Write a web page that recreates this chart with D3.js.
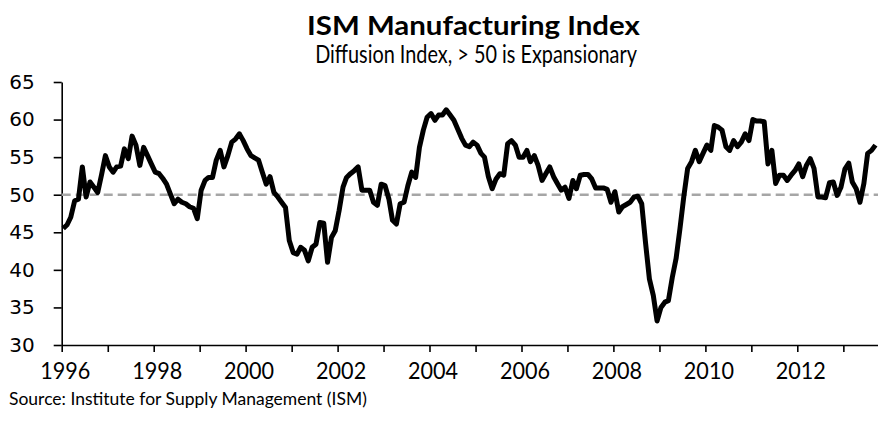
<!DOCTYPE html>
<html>
<head>
<meta charset="utf-8">
<script src="https://cdn.jsdelivr.net/npm/d3@7"></script>
<style>
  body { margin: 0; background: #fff; }
  svg { display: block; }
</style>
</head>
<body>
<div id="chart"></div>
<script>
// ISM Manufacturing PMI, monthly, Jan 1996 .. Sep 2013
const startYear = 1996;
const pmi = [
  45.5, 46.0, 47.0, 49.2, 49.4, 53.7, 49.7, 51.7, 51.0, 50.3, 52.7, 55.2, // 1996
  53.7, 53.0, 53.7, 53.8, 56.1, 54.8, 57.8, 56.6, 53.9, 56.3, 55.2, 54.1, // 1997
  53.0, 52.8, 52.2, 51.4, 50.1, 48.8, 49.4, 49.0, 48.8, 48.4, 48.2, 46.8, // 1998
  50.6, 51.9, 52.3, 52.3, 54.6, 55.9, 53.7, 55.2, 57.0, 57.4, 58.1, 57.2, // 1999
  56.1, 55.2, 54.9, 54.6, 53.0, 51.4, 52.4, 50.3, 49.7, 49.0, 48.3, 43.9, // 2000
  42.3, 42.1, 43.0, 42.6, 41.2, 43.0, 43.4, 46.3, 46.2, 41.0, 44.3, 45.2, // 2001
  47.9, 51.0, 52.3, 52.8, 53.2, 53.7, 50.6, 50.6, 50.6, 49.0, 48.6, 51.4, // 2002
  51.2, 49.4, 46.6, 46.1, 48.8, 49.0, 51.2, 53.0, 52.3, 56.3, 58.6, 60.3, // 2003
  60.8, 59.9, 60.6, 60.6, 61.3, 60.6, 59.9, 58.7, 57.5, 56.6, 56.4, 57.0, // 2004
  56.6, 55.5, 55.0, 52.4, 50.8, 52.1, 52.8, 52.6, 56.8, 57.2, 56.6, 55.0, // 2005
  55.0, 55.9, 54.4, 55.2, 53.9, 51.9, 52.8, 53.7, 52.4, 51.5, 50.6, 51.0, // 2006
  49.5, 51.9, 50.8, 52.6, 52.7, 52.7, 52.1, 50.9, 50.9, 50.9, 50.7, 49.0, // 2007
  50.4, 47.7, 48.4, 48.7, 49.0, 49.7, 49.8, 48.8, 43.5, 38.8, 36.6, 33.2, // 2008
  35.0, 35.7, 35.9, 39.0, 41.5, 45.5, 49.7, 53.5, 54.4, 55.9, 54.4, 55.5, // 2009
  56.6, 55.9, 59.2, 59.0, 58.6, 56.4, 55.9, 57.2, 56.4, 57.0, 58.1, 57.2, // 2010
  60.0, 59.8, 59.8, 59.7, 54.1, 55.9, 51.5, 52.6, 52.6, 51.9, 52.6, 53.2, // 2011
  54.1, 52.4, 53.9, 54.8, 53.5, 49.7, 49.7, 49.6, 51.6, 51.7, 49.9, 51.0, // 2012
  53.4, 54.2, 51.7, 50.8, 49.0, 51.5, 55.5, 55.9, 56.6                    // 2013
];
const yTicks = [30, 35, 40, 45, 50, 55, 60, 65];
const labelYears = [1996, 1998, 2000, 2002, 2004, 2006, 2008, 2010, 2012];
const threshold = 50;

const titleText = "ISM Manufacturing Index";
const subtitleText = "Diffusion Index, > 50 is Expansionary";
const sourceText = "Source: Institute for Supply Management (ISM)";

const W = 878, H = 421;
const calibri = "Lato, 'Open Sans', sans-serif";

const svg = d3.select("#chart").append("svg")
    .attr("width", W)
    .attr("height", H);

// scales
var x = d3.scaleTime()
    .domain([new Date(1996, 0, 1), new Date(2014, 0, 1)])
    .range([61.7, 889.3]);
var y = d3.scaleLinear()
    .domain([30, 65])
    .range([345, 82]);

// monthly points sit a little after the start of each month
var data = pmi.map((v, i) => ({ date: new Date(startYear, i, 13), value: v }));

// Calibri is narrower than Lato: keep the height, squeeze the text to the given width
function squeeze(sel, target, cx, by, anchor) {
  var len = sel.node().getComputedTextLength();
  var k = target / len;
  sel.attr("x", 0).attr("y", 0)
     .attr("text-anchor", anchor)
     .attr("transform", "translate(" + cx + "," + by + ") scale(" + k + ",1)");
}

// titles
var title = svg.append("text")
    .attr("font-family", calibri)
    .attr("font-weight", "bold")
    .attr("font-size", 26)
    .attr("fill", "#000")
    .text(titleText);
squeeze(title, 333, 473.5, 35, "middle");

var subtitle = svg.append("text")
    .attr("font-family", calibri)
    .attr("font-size", 25)
    .attr("fill", "#000")
    .text(subtitleText);
squeeze(subtitle, 322, 476, 63, "middle");

// y axis
var yAxis = svg.append("g")
    .attr("transform", "translate(61.7,0)")
    .call(d3.axisLeft(y).tickValues(yTicks).tickSize(8).tickSizeOuter(0).tickPadding(19));
yAxis.selectAll("text")
    .attr("font-family", "'DejaVu Sans', Verdana, sans-serif")
    .attr("font-size", 20)
    .attr("fill", "#000");

// x axis, a tick for each year, labels on even years
var xAxis = svg.append("g")
    .attr("transform", "translate(0,345)")
    .call(d3.axisBottom(x)
      .ticks(d3.timeYear.every(1))
      .tickSize(7)
      .tickSizeOuter(0)
      .tickFormat(d => labelYears.includes(d.getFullYear()) ? d.getFullYear() : ""));
xAxis.selectAll(".tick text")
    .attr("font-family", calibri)
    .attr("font-size", 24)
    .attr("fill", "#000")
    .attr("y", 0)
    .attr("dy", null)
    .attr("transform", "translate(3,34) scale(0.9,1)");

svg.selectAll(".domain, .tick line")
    .attr("stroke", "#000")
    .attr("stroke-width", 1.6);

// 50 line
svg.append("line")
    .attr("x1", x(new Date(1996, 0, 1)))
    .attr("x2", W)
    .attr("y1", y(threshold))
    .attr("y2", y(threshold))
    .attr("stroke", "#a6a6a6")
    .attr("stroke-width", 2.5)
    .attr("stroke-dasharray", "9,5");

// the index line
var line = d3.line()
    .x(d => x(d.date))
    .y(d => y(d.value));

svg.append("path")
    .datum(data)
    .attr("fill", "none")
    .attr("stroke", "#000")
    .attr("stroke-width", 5)
    .attr("stroke-linejoin", "round")
    .attr("stroke-linecap", "butt")
    .attr("d", line);

// source note
var source = svg.append("text")
    .attr("font-family", calibri)
    .attr("font-size", 18)
    .attr("fill", "#000")
    .text(sourceText);
squeeze(source, 358, 9, 405, "start");
</script>
</body>
</html>
